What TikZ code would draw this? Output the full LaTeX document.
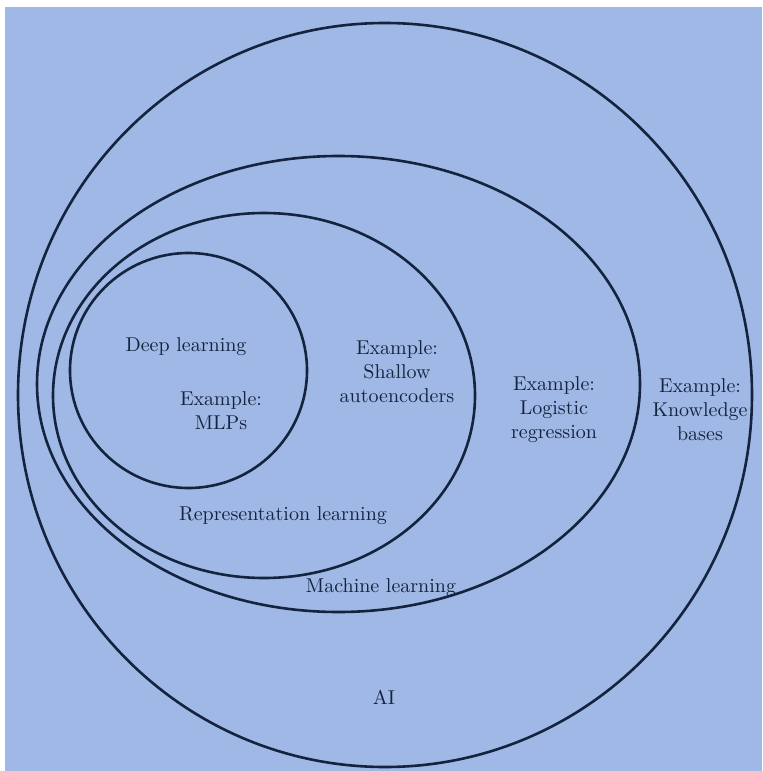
\documentclass[tikz,border=0pt]{standalone}
\usepackage{tikz}
\usepackage{xcolor}

\definecolor{paper}{RGB}{160,184,229}
\definecolor{ink}{RGB}{20,36,62}

\begin{document}
\begin{tikzpicture}
  [x=0.5pt,y=-0.5pt,every node/.style={text=ink,align=center}]

  \useasboundingbox (0,0) rectangle (762,771);
  \fill[white] (0,0) rectangle (762,771);
  \fill[paper] (5,7) rectangle (762,771);

  \coordinate (ai) at (385,395);
  \coordinate (ml) at (338.5,384);
  \coordinate (rl) at (264,395.5);
  \coordinate (dl) at (188.5,370.5);

  \draw[ink,line width=1.3pt] (ai) ellipse [x radius=367,y radius=372];
  \draw[ink,line width=1.3pt] (ml) ellipse [x radius=301.5,y radius=228];
  \draw[ink,line width=1.3pt] (rl) ellipse [x radius=211,y radius=182.5];
  \draw[ink,line width=1.3pt] (dl) ellipse [x radius=118.5,y radius=117.5];

  \node (deep) at (186,347) {Deep learning};
  \node (mlps) at (221,411) {Example:\\MLPs};
  \node (shallow) at (397,372) {Example:\\Shallow\\autoencoders};
  \node (logistic) at (554,410) {Example:\\Logistic\\regression};
  \node (knowledge) at (700,410) {Example:\\Knowledge\\bases};
  \node (repr) at (283,516) {Representation learning};
  \node (machine) at (381,588) {Machine learning};
  \node (ainame) at (384,697) {AI};
\end{tikzpicture}
\end{document}
